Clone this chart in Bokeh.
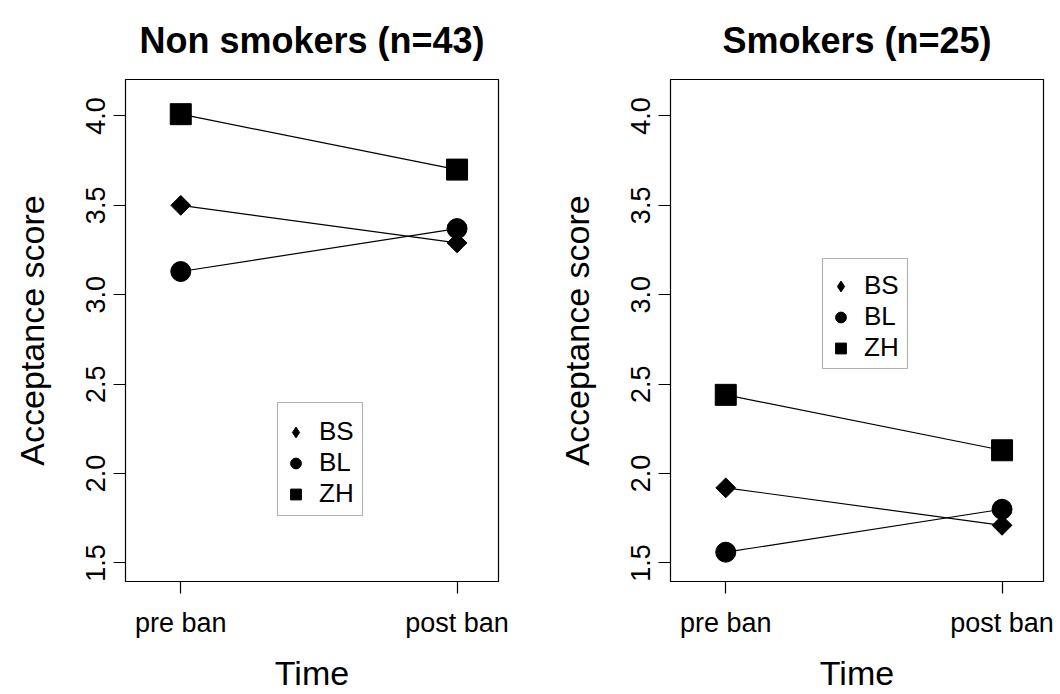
import math
from bokeh.plotting import figure
from bokeh.models import Range1d, FixedTicker, Legend, LegendItem, BoxAnnotation
from bokeh.layouts import row
from bokeh.embed import file_html
from bokeh.resources import INLINE

# ---- data ----
time_labels = ["pre ban", "post ban"]
time_pos = [1, 2]
cities = ["BS", "BL", "ZH"]
nonsmokers_BS = [3.50, 3.29]
nonsmokers_BL = [3.13, 3.37]
nonsmokers_ZH = [4.01, 3.70]
smokers_BS = [1.92, 1.71]
smokers_BL = [1.56, 1.80]
smokers_ZH = [2.44, 2.13]
y_ticks = [1.5, 2.0, 2.5, 3.0, 3.5, 4.0]
panel_titles = ["Non smokers (n=43)", "Smokers (n=25)"]
x_title = "Time"
y_title = "Acceptance score"

XLIM = (0.85, 2.1)
YLIM = (1.5, 4.1)

FONT = "Liberation Sans"
marker_style = {
    "BS": dict(marker="square", size=14, angle=math.pi / 4),
    "BL": dict(marker="circle", size=20, angle=0),
    "ZH": dict(marker="square", size=21, angle=0),
}
legend_marker = {"BS": "diamond", "BL": "circle", "ZH": "square"}


def ext(lim):
    d = (lim[1] - lim[0]) * 0.04
    return Range1d(lim[0] - d, lim[1] + d)


def panel(title, series, width, border_right, box_geom):
    p = figure(width=width, height=694, output_backend="svg", toolbar_location=None,
               x_range=ext(XLIM), y_range=ext(YLIM),
               min_border_left=125, min_border_right=border_right,
               min_border_top=79, min_border_bottom=113)
    p.grid.visible = False
    p.background_fill_color = "white"
    p.border_fill_color = "white"
    p.outline_line_color = "black"
    p.outline_line_width = 1.2

    p.title.text = title
    p.title.text_font = FONT
    p.title.text_font_size = "36px"
    p.title.text_font_style = "bold"
    p.title.text_color = "black"
    p.title.align = "center"
    p.title.vertical_align = "top"
    p.title.standoff = 34

    for ax in (p.xaxis[0], p.yaxis[0]):
        ax.axis_line_color = None
        ax.major_tick_out = 12
        ax.major_tick_in = 0
        ax.major_tick_line_color = "black"
        ax.major_tick_line_width = 1.2
        ax.minor_tick_line_color = None
        ax.major_label_text_font = FONT
        ax.major_label_text_font_size = "27px"
        ax.major_label_text_color = "black"
        ax.axis_label_text_font = FONT
        ax.axis_label_text_font_size = "34px"
        ax.axis_label_text_font_style = "normal"
        ax.axis_label_text_color = "black"

    p.xaxis.ticker = FixedTicker(ticks=time_pos)
    p.xaxis.major_label_overrides = {t: l for t, l in zip(time_pos, time_labels)}
    p.xaxis.axis_label = x_title
    p.xaxis.major_label_standoff = 14
    p.xaxis.axis_label_standoff = 13

    p.yaxis.ticker = FixedTicker(ticks=y_ticks)
    p.yaxis.major_label_overrides = {t: f"{t:.1f}" for t in y_ticks}
    p.yaxis.major_label_orientation = "parallel"
    p.yaxis.axis_label = y_title
    p.yaxis.major_label_standoff = 8
    p.yaxis.axis_label_standoff = 33

    items = []
    for city in cities:
        vals = series[city]
        # small legend-key renderer hidden beneath the main markers
        lr = p.scatter(time_pos, vals, marker=legend_marker[city], size=4,
                       fill_color="black", line_color="black")
        items.append(LegendItem(label=city, renderers=[lr]))
    for city in cities:
        vals = series[city]
        st = marker_style[city]
        p.line(time_pos, vals, line_color="black", line_width=1.2)
        p.scatter(time_pos, vals, marker=st["marker"], size=st["size"], angle=st["angle"],
                  fill_color="black", line_color="black")

    bl, bb, bh = box_geom
    box = BoxAnnotation(left=bl, right=bl + 85, bottom=bb, top=bb + bh,
                        left_units="screen", right_units="screen",
                        bottom_units="screen", top_units="screen",
                        fill_color="white", fill_alpha=1.0,
                        line_color="black", line_width=1.2)
    p.add_layout(box)

    leg = Legend(items=items, location=(bl + 5, round(bb + bh / 2 - 50)), margin=0, padding=0,
                 glyph_width=27, glyph_height=28, label_height=28, spacing=0,
                 label_standoff=10,
                 label_text_font=FONT, label_text_font_size="26px",
                 label_text_color="black",
                 border_line_color=None,
                 background_fill_alpha=0.0)
    p.add_layout(leg, "center")
    return p


left = panel(panel_titles[0], {"BS": nonsmokers_BS, "BL": nonsmokers_BL, "ZH": nonsmokers_ZH},
             545, 47, (152, 66, 113))
right = panel(panel_titles[1], {"BS": smokers_BS, "BL": smokers_BL, "ZH": smokers_ZH},
              515, 17, (152, 213, 110))

layout = row(left, right)
open("out.html", "w").write(file_html(layout, INLINE))
